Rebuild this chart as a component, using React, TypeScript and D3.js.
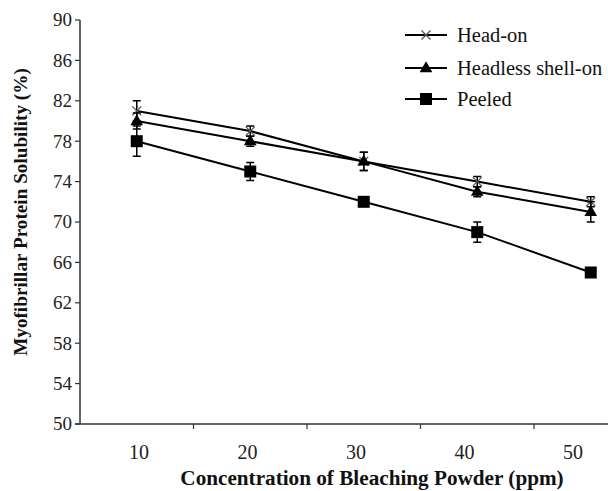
import * as d3 from 'd3';
import { useEffect, useRef } from 'react';

const concentrations = ['10', '20', '30', '40', '50'];
const headOn = [81, 79, 76, 74, 72];
const headOnErr = [1, 0.5, 0.9, 0.5, 0.5];
const headless = [80, 78, 76, 73, 71];
const headlessErr = [0.8, 0.5, 0.9, 0.5, 1];
const peeled = [78, 75, 72, 69, 65];
const peeledErr = [1.5, 0.9, 0.3, 1, 0.3];
const yTicks = [50, 54, 58, 62, 66, 70, 74, 78, 82, 86, 90];

const series = [
  { name: 'Head-on', values: headOn, err: headOnErr, marker: 'x' },
  { name: 'Headless shell-on', values: headless, err: headlessErr, marker: 'tri' },
  { name: 'Peeled', values: peeled, err: peeledErr, marker: 'sq' },
];

export default function App() {
  const svgRef = useRef<SVGSVGElement>(null);

  useEffect(() => {
    if (!svgRef.current) return;
    const svg = d3.select(svgRef.current);
    svg.selectAll('*').remove();

    const left = 80;
    const bottom = 424;
    const top = 20;

    const x = d3.scaleBand().domain(concentrations).range([left, 647.5]);
    const xLabel = d3.scalePoint().domain(concentrations).range([139, 573]);
    const y = d3.scaleLinear().domain([50, 90]).range([bottom, top]);
    const cx = (c: string) => (x(c) ?? 0) + x.bandwidth() / 2;

    svg.append('rect').attr('width', 608).attr('height', 491).attr('fill', '#fff');

    // y axis
    svg.append('line')
      .attr('x1', left).attr('x2', left).attr('y1', top).attr('y2', bottom)
      .attr('stroke', '#333').attr('stroke-width', 1.5);
    const yg = svg.append('g');
    yTicks.forEach((t) => {
      yg.append('line')
        .attr('x1', left - 5).attr('x2', left).attr('y1', y(t)).attr('y2', y(t))
        .attr('stroke', '#333').attr('stroke-width', 1.2);
      yg.append('text')
        .attr('x', left - 8).attr('y', y(t)).attr('dy', '0.34em')
        .attr('text-anchor', 'end')
        .attr('fill', '#222')
        .text(t);
    });

    // x axis
    svg.append('line')
      .attr('x1', left - 5).attr('x2', 608).attr('y1', bottom).attr('y2', bottom)
      .attr('stroke', '#333').attr('stroke-width', 1.5);
    concentrations.slice(1).forEach((c) => {
      const bx = x(c) ?? 0;
      svg.append('line')
        .attr('x1', bx).attr('x2', bx).attr('y1', bottom).attr('y2', bottom + 5)
        .attr('stroke', '#333').attr('stroke-width', 1.2);
    });
    concentrations.forEach((c) => {
      svg.append('text')
        .attr('x', xLabel(c) ?? 0).attr('y', 459)
        .attr('text-anchor', 'middle')
        .attr('font-size', 20)
        .attr('fill', '#222')
        .text(c);
    });

    // titles
    svg.append('text')
      .attr('x', 372).attr('y', 485)
      .attr('text-anchor', 'middle')
      .attr('font-weight', 'bold')
      .attr('font-size', 21.2)
      .attr('fill', '#111')
      .text('Concentration of Bleaching Powder (ppm)');
    svg.append('text')
      .attr('transform', 'translate(27,212) rotate(-90)')
      .attr('text-anchor', 'middle')
      .attr('font-weight', 'bold')
      .attr('font-size', 19.2)
      .attr('fill', '#111')
      .text('Myofibrillar Protein Solubility (%)');

    const drawMarker = (g: d3.Selection<SVGGElement, unknown, null, undefined>, m: string, px: number, py: number) => {
      if (m === 'x') {
        g.append('path')
          .attr('d', `M${px - 4.5},${py - 4.5}L${px + 4.5},${py + 4.5}M${px - 4.5},${py + 4.5}L${px + 4.5},${py - 4.5}`)
          .attr('stroke', '#555').attr('stroke-width', 1.3).attr('fill', 'none');
      } else if (m === 'tri') {
        g.append('path')
          .attr('d', d3.symbol(d3.symbolTriangle, 70)() ?? '')
          .attr('transform', `translate(${px},${py + 0.5})`)
          .attr('fill', '#000');
      } else {
        g.append('rect')
          .attr('x', px - 6).attr('y', py - 6).attr('width', 12).attr('height', 12)
          .attr('fill', '#000');
      }
    };

    const line = d3.line<number>()
      .x((_, i) => cx(concentrations[i]))
      .y((d) => y(d));

    series.forEach((s) => {
      const g = svg.append('g');
      g.append('path')
        .attr('d', line(s.values) ?? '')
        .attr('fill', 'none').attr('stroke', '#000').attr('stroke-width', 2);
      s.values.forEach((v, i) => {
        const px = cx(concentrations[i]);
        const y1 = y(v + s.err[i]);
        const y2 = y(v - s.err[i]);
        g.append('path')
          .attr('d', `M${px},${y1}L${px},${y2}M${px - 4},${y1}L${px + 4},${y1}M${px - 4},${y2}L${px + 4},${y2}`)
          .attr('stroke', '#000').attr('stroke-width', 1.5).attr('fill', 'none');
        drawMarker(g, s.marker, px, y(v));
      });
    });

    // legend
    const lg = svg.append('g');
    const rows = [35, 68, 99];
    series.forEach((s, i) => {
      lg.append('line')
        .attr('x1', 405).attr('x2', 447).attr('y1', rows[i]).attr('y2', rows[i])
        .attr('stroke', '#000').attr('stroke-width', 2);
      drawMarker(lg, s.marker, 426, rows[i]);
      lg.append('text')
        .attr('x', 457).attr('y', rows[i]).attr('dy', '0.34em')
        .attr('font-size', 20.5)
        .attr('fill', '#111')
        .text(s.name);
    });
  }, []);

  return (
    <svg
      ref={svgRef}
      width={608}
      height={491}
      style={{
        position: 'absolute', left: 0, top: 0, display: 'block',
        fontFamily: 'Liberation Serif', fontSize: 19,
      }}
    />
  );
}
